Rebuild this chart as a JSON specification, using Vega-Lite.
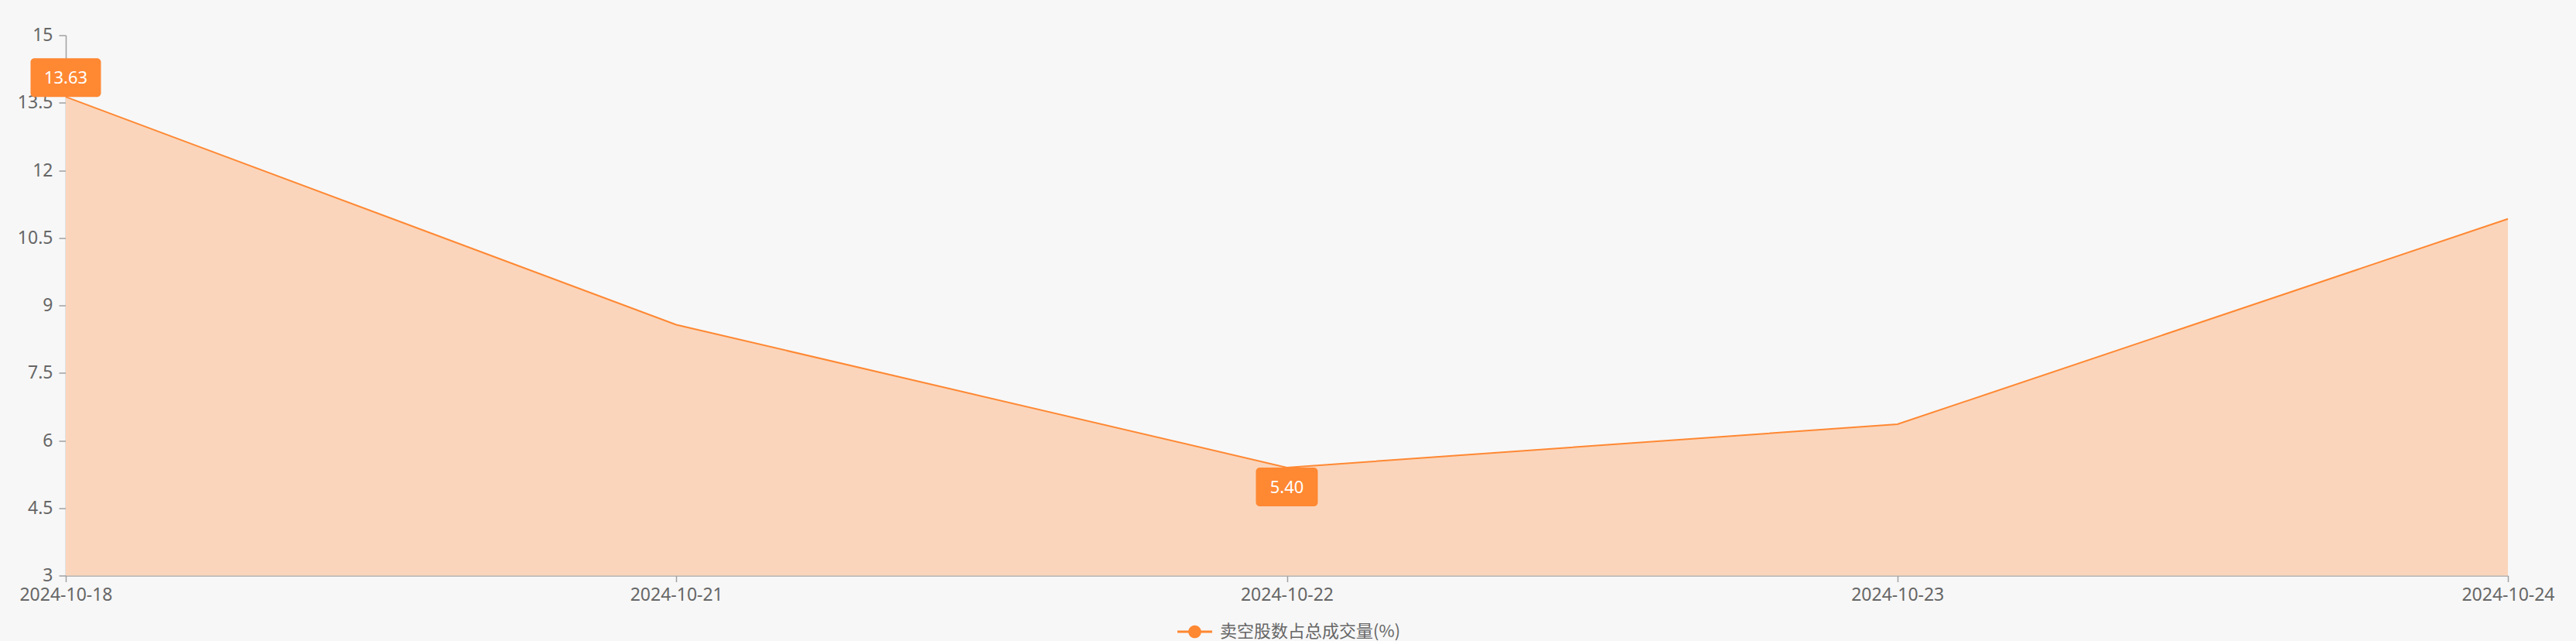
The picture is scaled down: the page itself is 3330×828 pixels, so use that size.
{
  "$schema": "https://vega.github.io/schema/vega-lite/v6.json",
  "autosize": {"type": "none"},
  "width": 3157,
  "height": 698,
  "padding": {"left": 85, "top": 45.5, "right": 88, "bottom": 84.5},
  "background": "#f7f7f7",
  "config": {
    "view": {"stroke": null},
    "font": "Noto Sans",
    "axis": {
      "labelFont": "Noto Sans",
      "labelFontSize": 23,
      "labelColor": "#666666",
      "domainColor": "#a0a0a0",
      "tickColor": "#a0a0a0",
      "domainWidth": 1.5,
      "tickWidth": 1.5,
      "grid": false,
      "title": null
    }
  },
  "data": {
    "values": [
      {"date": "2024-10-18", "value": 13.63},
      {"date": "2024-10-21", "value": 8.57},
      {"date": "2024-10-22", "value": 5.40},
      {"date": "2024-10-23", "value": 6.36},
      {"date": "2024-10-24", "value": 10.92}
    ]
  },
  "encoding": {
    "x": {
      "field": "date",
      "type": "ordinal",
      "scale": {"type": "point", "padding": 0},
      "axis": {"labelAngle": 0, "tickSize": 8, "labelPadding": 6, "labelFlush": false, "labelOverlap": false}
    },
    "y": {
      "field": "value",
      "type": "quantitative",
      "scale": {"domain": [3, 15], "nice": false, "zero": false},
      "axis": {"values": [3, 4.5, 6, 7.5, 9, 10.5, 12, 13.5, 15], "format": ".1~f", "tickSize": 9, "labelPadding": 8}
    }
  },
  "layer": [
    {
      "mark": {"type": "area", "fill": "#fad5bb", "opacity": 1},
      "encoding": {"y2": {"datum": 3}}
    },
    {
      "mark": {"type": "line", "strokeWidth": 2},
      "encoding": {
        "color": {
          "datum": "卖空股数占总成交量(%)",
          "scale": {"range": ["#ff8833"]},
          "legend": {
            "orient": "none",
            "legendX": 1437,
            "legendY": 748,
            "direction": "horizontal",
            "title": null,
            "labelFont": "Noto Sans CJK SC",
            "labelFontSize": 22,
            "labelColor": "#666666",
            "labelOffset": 10,
            "labelLimit": 0,
            "symbolSize": 2025,
            "symbolType": "M-1,-0.071L1,-0.071L1,0.071L-1,0.071Z M-0.37,0A0.37,0.37,0,1,1,0.37,0A0.37,0.37,0,1,1,-0.37,0Z",
            "symbolFillColor": "#ff8833",
            "symbolStrokeWidth": 0,
            "encode": {
              "symbols": {
                "update": {
                  "fill": {"value": "#ff8833"},
                  "stroke": {"value": "transparent"},
                  "strokeWidth": {"value": 0},
                  "opacity": {"value": 1}
                }
              }
            }
          }
        }
      }
    },
    {
      "transform": [
        {"joinaggregate": [{"op": "max", "field": "value", "as": "vmax"}]},
        {"filter": "datum.value == datum.vmax"}
      ],
      "layer": [
        {
          "mark": {
            "type": "point",
            "filled": true,
            "fill": "#ff8833",
            "opacity": 1,
            "strokeWidth": 0,
            "size": 8281,
            "shape": "M-0.89,-1.099L0.89,-1.099A0.11,0.11,0,0,1,1,-0.989L1,-0.11A0.11,0.11,0,0,1,0.89,0L-0.89,0A0.11,0.11,0,0,1,-1,-0.11L-1,-0.989A0.11,0.11,0,0,1,-0.89,-1.099Z"
          }
        },
        {
          "mark": {"type": "text", "color": "#ffffff", "fontSize": 22, "baseline": "middle", "align": "center", "dy": -24},
          "encoding": {"text": {"field": "value", "type": "quantitative", "format": ".2f"}}
        }
      ]
    },
    {
      "transform": [
        {"joinaggregate": [{"op": "min", "field": "value", "as": "vmin"}]},
        {"filter": "datum.value == datum.vmin"}
      ],
      "layer": [
        {
          "mark": {
            "type": "point",
            "filled": true,
            "fill": "#ff8833",
            "opacity": 1,
            "strokeWidth": 0,
            "size": 6400,
            "shape": "M-0.875,0L0.875,0A0.125,0.125,0,0,1,1,0.125L1,1.125A0.125,0.125,0,0,1,0.875,1.25L-0.875,1.25A0.125,0.125,0,0,1,-1,1.125L-1,0.125A0.125,0.125,0,0,1,-0.875,0Z"
          }
        },
        {
          "mark": {"type": "text", "color": "#ffffff", "fontSize": 22, "baseline": "middle", "align": "center", "dy": 26},
          "encoding": {"text": {"field": "value", "type": "quantitative", "format": ".2f"}}
        }
      ]
    }
  ]
}
